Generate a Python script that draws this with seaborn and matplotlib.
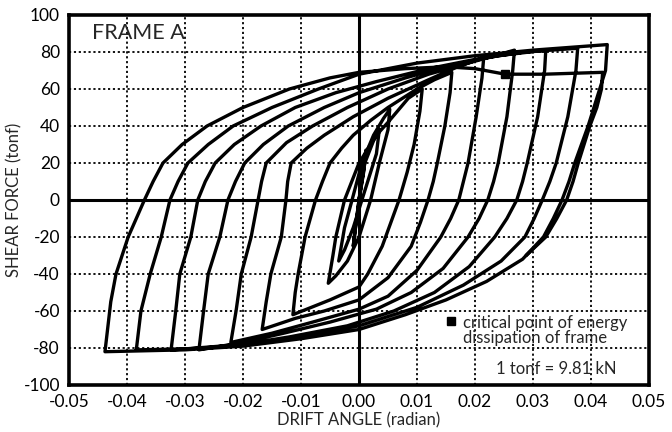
import matplotlib
matplotlib.use("Agg")
import matplotlib.pyplot as plt
import pandas as pd
import seaborn as sns

# hysteresis branches, (drift angle [rad], shear force [tonf])
UP_01 = [(0.0, 0), (0.0005, 12), (0.0012, 27)]
DN_01 = [(0.0012, 27), (0.0008, 15), (0.0, 0), (-0.0005, -12), (-0.001, -25)]
UP_02 = [(-0.001, -25), (-0.0004, -10), (0.0, 0), (0.001, 20), (0.0025, 32), (0.0035, 38)]
DN_02 = [(0.0035, 38), (0.003, 25), (0.0015, 10), (0.0005, 0), (-0.001, -15),
         (-0.0025, -27), (-0.0035, -33)]
UP_03 = [(-0.0035, -33), (-0.0025, -15), (-0.0012, 0), (0.0005, 20), (0.0025, 35),
         (0.0042, 44), (0.0053, 49)]
DN_03 = [(0.0053, 49), (0.005, 38), (0.0035, 20), (0.002, 0), (0.0, -20),
         (-0.002, -33), (-0.004, -41), (-0.0053, -45)]
UP_04 = [(-0.0053, -45), (-0.0045, -30), (-0.004, -20), (-0.0025, 0), (-0.001, 12),
         (0.0, 20), (0.003, 35), (0.005, 42), (0.0085, 55), (0.0109, 60)]
DN_04 = [(0.0109, 60), (0.0105, 48), (0.0095, 30), (0.0083, 15), (0.0069, 0),
         (0.0055, -12), (0.004, -25), (0.0015, -40), (0.0, -47), (-0.005, -54),
         (-0.0114, -62)]
UP_05 = [(-0.0114, -62), (-0.011, -50), (-0.0105, -40), (-0.0093, -20), (-0.0075, 0),
         (-0.0063, 10), (-0.005, 20), (-0.003, 28), (-0.001, 35), (0.002, 43),
         (0.005, 50), (0.010, 60), (0.013, 65), (0.016, 69)]
DN_05 = [(0.016, 69), (0.0157, 58), (0.0148, 40), (0.0135, 20), (0.0128, 10),
         (0.0119, 0), (0.0106, -12), (0.009, -25), (0.005, -42), (0.0, -54),
         (-0.006, -60), (-0.011, -64), (-0.0167, -70)]
UP_06 = [(-0.0167, -70), (-0.016, -55), (-0.0152, -40), (-0.0134, -20), (-0.0126, 0),
         (-0.0123, 10), (-0.0117, 20), (-0.009, 28), (-0.006, 35), (-0.001, 45),
         (0.005, 55), (0.012, 65), (0.017, 72), (0.0215, 77)]
DN_06 = [(0.0215, 77), (0.0212, 66), (0.0202, 45), (0.0188, 20), (0.018, 10),
         (0.0172, 0), (0.0158, -10), (0.0141, -20), (0.010, -38), (0.005, -52),
         (0.0, -59), (-0.008, -66), (-0.015, -72), (-0.0221, -77)]
UP_07 = [(-0.0221, -77), (-0.0212, -60), (-0.0203, -40), (-0.0186, -20), (-0.0174, 0),
         (-0.0168, 10), (-0.016, 20), (-0.0125, 31), (-0.008, 40), (-0.002, 50),
         (0.005, 60), (0.012, 68), (0.02, 75), (0.0268, 81)]
DN_07 = [(0.0268, 81), (0.0265, 70), (0.0255, 45), (0.024, 20), (0.0232, 10),
         (0.0222, 0), (0.0207, -10), (0.0188, -20), (0.0145, -37), (0.009, -50),
         (0.003, -59), (-0.005, -66), (-0.013, -72), (-0.02, -77), (-0.0276, -81)]
UP_08 = [(-0.0276, -81), (-0.0268, -60), (-0.026, -40), (-0.024, -20), (-0.0226, 0),
         (-0.0213, 10), (-0.0197, 20), (-0.0165, 30), (-0.0122, 40), (-0.006, 50),
         (0.0, 58), (0.008, 66), (0.016, 73), (0.024, 78), (0.0322, 81)]
DN_08 = [(0.0322, 81), (0.032, 70), (0.0308, 45), (0.029, 20), (0.0282, 10),
         (0.0272, 0), (0.0255, -10), (0.0234, -20), (0.019, -36), (0.013, -50),
         (0.006, -60), (-0.002, -68), (-0.012, -74), (-0.022, -79), (-0.0324, -81)]
UP_09 = [(-0.0324, -81), (-0.0316, -60), (-0.0309, -40), (-0.029, -20), (-0.0278, 0),
         (-0.0265, 10), (-0.0248, 20), (-0.0215, 30), (-0.0169, 40), (-0.011, 50),
         (-0.004, 58), (0.003, 64), (0.012, 71), (0.02, 76), (0.0285, 80),
         (0.0377, 82)]
DN_09 = [(0.0377, 82), (0.0374, 70), (0.036, 45), (0.034, 20), (0.0329, 10),
         (0.0316, 0), (0.0302, -10), (0.0286, -20), (0.0245, -33), (0.018, -46),
         (0.01, -58), (0.0, -68), (-0.01, -74), (-0.02, -78), (-0.03, -80.5),
         (-0.0384, -81)]
UP_10 = [(-0.0384, -81), (-0.0376, -60), (-0.036, -40), (-0.0341, -20), (-0.0326, 0),
         (-0.0312, 10), (-0.0295, 20), (-0.026, 30), (-0.0217, 40), (-0.015, 50),
         (-0.007, 60), (0.0, 68), (0.01, 74), (0.02, 78), (0.03, 81), (0.0428, 84)]
DN_10 = [(0.0428, 84), (0.0425, 70), (0.0413, 58), (0.0395, 40), (0.0372, 20),
         (0.0362, 10), (0.035, 0), (0.0335, -10), (0.0318, -20), (0.0282, -32),
         (0.022, -44), (0.015, -54), (0.008, -62), (0.0, -70), (-0.01, -75),
         (-0.02, -79), (-0.03, -81), (-0.0438, -82)]
UP_11 = [(-0.0438, -82), (-0.0428, -55), (-0.0419, -40), (-0.0398, -20), (-0.037, 0),
         (-0.0355, 10), (-0.0338, 20), (-0.0305, 30), (-0.0262, 40), (-0.02, 50),
         (-0.012, 60), (-0.005, 66), (0.0, 69), (0.008, 71), (0.015, 72), (0.02, 71),
         (0.0252, 68), (0.032, 68), (0.042, 69)]
DN_11 = [(0.042, 69), (0.0418, 60), (0.041, 50), (0.0398, 40), (0.0378, 20),
         (0.0369, 10), (0.0358, 0), (0.0341, -10), (0.0322, -20), (0.0288, -30)]

BRANCHES = [UP_01, DN_01, UP_02, DN_02, UP_03, DN_03, UP_04, DN_04, UP_05, DN_05,
            UP_06, DN_06, UP_07, DN_07, UP_08, DN_08, UP_09, DN_09, UP_10, DN_10,
            UP_11, DN_11]

CRITICAL_POINT = (0.0252, 68)

X_TICKS = [-0.05, -0.04, -0.03, -0.02, -0.01, 0.0, 0.01, 0.02, 0.03, 0.04, 0.05]
Y_TICKS = [-100, -80, -60, -40, -20, 0, 20, 40, 60, 80, 100]


def build_path(branches):
    rows = []
    for branch in branches:
        start = 1 if rows else 0
        rows.extend(branch[start:])
    df = pd.DataFrame(rows, columns=["drift", "force"])
    df["step"] = range(len(df))
    return df


def main():
    sns.set_theme(style="white")
    plt.rcParams["font.family"] = ["Lato", "DejaVu Sans"]
    plt.rcParams["axes.unicode_minus"] = False

    path = build_path(BRANCHES)

    fig = plt.figure(figsize=(6.72, 4.32), dpi=100)
    ax = fig.add_axes([0.1027, 0.1088, 0.8631, 0.8565])

    for x in X_TICKS[1:-1]:
        if x != 0.0:
            ax.axvline(x, color="black", lw=1.3, ls=(0, (1.2, 1.5)), zorder=1)
    for y in Y_TICKS[1:-1]:
        if y != 0:
            ax.axhline(y, color="black", lw=1.3, ls=(0, (1.2, 1.5)), zorder=1)
    ax.axvline(0, color="black", lw=2.2, zorder=2)
    ax.axhline(0, color="black", lw=2.2, zorder=2)

    sns.lineplot(data=path, x="drift", y="force", sort=False, estimator=None,
                 color="black", lw=2.4, ax=ax, zorder=3)
    ax.plot(*CRITICAL_POINT, marker="s", ms=6, color="black", zorder=4)

    ax.set_xlim(-0.05, 0.05)
    ax.set_ylim(-100, 100)
    ax.set_xticks(X_TICKS)
    ax.set_yticks(Y_TICKS)
    ax.set_xticklabels([f"{v:.2f}" for v in X_TICKS])
    ax.set_yticklabels([str(v) for v in Y_TICKS])
    ax.tick_params(direction="out", length=5, width=2, pad=1.5,
                   labelsize=12.5, colors="black")
    for spine in ax.spines.values():
        spine.set_linewidth(2.6)
        spine.set_color("black")

    ax.set_xlabel("DRIFT ANGLE (radian)", fontsize=12, labelpad=1.5)
    ax.set_ylabel("SHEAR FORCE (tonf)", fontsize=12, labelpad=1)

    ax.text(0.04, 0.951, "FRAME A", transform=ax.transAxes, fontsize=15.5,
            va="center", ha="left")
    ax.plot(0.659, 0.173, marker="s", ms=6, color="black",
            transform=ax.transAxes, clip_on=False)
    ax.text(0.679, 0.19, "critical point of energy\ndissipation of frame",
            transform=ax.transAxes, fontsize=12, va="top", ha="left",
            linespacing=0.95)
    ax.text(0.84, 0.043, "1 tonf = 9.81 kN", transform=ax.transAxes,
            fontsize=12, va="center", ha="center")

    fig.savefig("out.png", dpi=100)
    plt.close(fig)


if __name__ == "__main__":
    main()
